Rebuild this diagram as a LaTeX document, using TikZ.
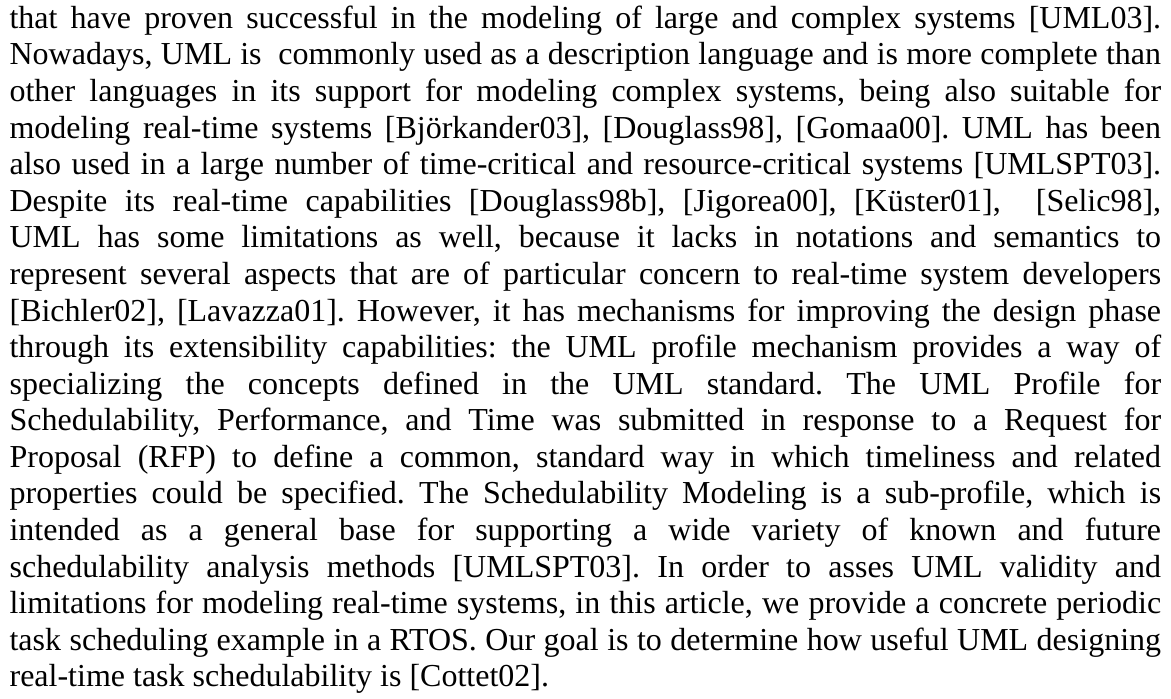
\documentclass[tikz,border=0pt]{standalone}
\usepackage{fontspec}
\setmainfont{Liberation Serif}
\newlength\tw
\setlength\tw{575.75pt}
\newcommand\jline[1]{\hbox to \tw{#1}}
\tikzset{para/.style={anchor=base west, inner sep=0pt, font=\fontsize{16pt}{18.29pt}\selectfont\frenchspacing}}
\begin{document}
\begin{tikzpicture}
\useasboundingbox (0,0) rectangle (585.5pt,-349pt);
\node[para] (txt) at (4.6pt,-14.2pt) {\vtop{%
\jline{that have proven successful in the modeling of large and complex systems [UML03].}
\jline{Nowadays, UML is\ \ commonly used as a description language and is more complete than}
\jline{other languages in its support for modeling complex systems, being also suitable for}
\jline{modeling real-time systems [Björkander03], [Douglass98], [Gomaa00]. UML has been}
\jline{also used in a large number of time-critical and resource-critical systems [UMLSPT03].}
\jline{Despite its real-time capabilities [Douglass98b], [Jigorea00], [Küster01],\ \ [Selic98],}
\jline{UML has some limitations as well, because it lacks in notations and semantics to}
\jline{represent several aspects that are of particular concern to real-time system developers}
\jline{[Bichler02], [Lavazza01]. However, it has mechanisms for improving the design phase}
\jline{through its extensibility capabilities: the UML profile mechanism provides a way of}
\jline{specializing the concepts defined in the UML standard. The UML Profile for}
\jline{Schedulability, Performance, and Time was submitted in response to a Request for}
\jline{Proposal (RFP) to define a common, standard way in which timeliness and related}
\jline{properties could be specified. The Schedulability Modeling is a sub-profile, which is}
\jline{intended as a general base for supporting a wide variety of known and future}
\jline{schedulability analysis methods [UMLSPT03]. In order to asses UML validity and}
\jline{limitations for modeling real-time systems, in this article, we provide a concrete periodic}
\jline{task scheduling example in a RTOS. Our goal is to determine how useful UML designing}
\hbox{real-time task schedulability is [Cottet02].}}};
\end{tikzpicture}
\end{document}
